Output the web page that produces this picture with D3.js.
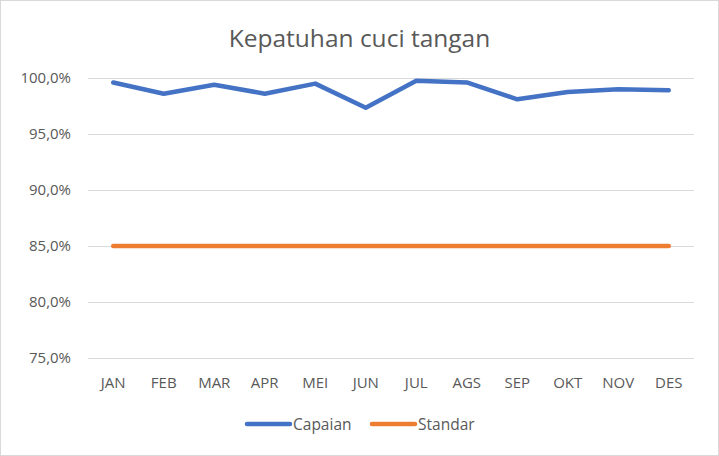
<!DOCTYPE html>
<html>
<head>
<meta charset="utf-8">
<script src="https://cdn.jsdelivr.net/npm/d3@7"></script>
<style>
  body { margin: 0; background: #fff; }
  text { font-family: "Open Sans", "Noto Sans", sans-serif; fill: #595959; }
</style>
</head>
<body>
<div id="container"></div>
<script>
// data
const months = [ 'JAN', 'FEB', 'MAR', 'APR', 'MEI', 'JUN', 'JUL', 'AGS', 'SEP', 'OKT', 'NOV', 'DES' ];
const capaian = [ 99.6, 98.6, 99.4, 98.6, 99.5, 97.35, 99.75, 99.6, 98.1, 98.75, 99.0, 98.9 ];
const standar = [ 85, 85, 85, 85, 85, 85, 85, 85, 85, 85, 85, 85 ];
const yTicks = [ 75, 80, 85, 90, 95, 100 ];

const series = [
  { name: 'Capaian', values: capaian, color: '#4472C4' },
  { name: 'Standar', values: standar, color: '#ED7D31' }
];

const W = 719, H = 456;
const margin = { top: 78, right: 25, bottom: 98, left: 88 };
const width = W - margin.left - margin.right;
const height = H - margin.top - margin.bottom;

const svg = d3.select( '#container' ).append( 'svg' )
  .attr( 'width', W ).attr( 'height', H );

// chart border
svg.append( 'rect' )
  .attr( 'x', 0.5 ).attr( 'y', 0.5 )
  .attr( 'width', W - 1 ).attr( 'height', H - 1 )
  .attr( 'fill', '#fff' ).attr( 'stroke', '#d9d9d9' );

const g = svg.append( 'g' ).attr( 'transform', `translate(${margin.left},${margin.top})` );

const x = d3.scaleBand().domain( months ).range( [ 0, width ] );
const y = d3.scaleLinear().domain( [ 75, 100 ] ).range( [ height, 0 ] );
const fmt = v => d3.format( '.1f' )( v ).replace( '.', ',' ) + '%';

// gridlines
g.append( 'g' )
  .selectAll( 'line' )
  .data( yTicks )
  .join( 'line' )
  .attr( 'x1', 0 ).attr( 'x2', width )
  .attr( 'y1', d => Math.round( y( d ) ) + 0.5 )
  .attr( 'y2', d => Math.round( y( d ) ) + 0.5 )
  .attr( 'stroke', '#d9d9d9' ).attr( 'stroke-width', 1 );

// y axis
const yAxis = g.append( 'g' )
  .call( d3.axisLeft( y ).tickValues( yTicks ).tickFormat( fmt ).tickSize( 0 ).tickPadding( 17 ) );
yAxis.select( '.domain' ).remove();
yAxis.selectAll( 'text' ).style( 'font-size', '15px' ).attr( 'fill', '#595959' );

// x axis
const xAxis = g.append( 'g' )
  .attr( 'transform', `translate(0,${height})` )
  .call( d3.axisBottom( x ).tickSize( 0 ).tickPadding( 19 ) );
xAxis.select( '.domain' ).remove();
xAxis.selectAll( 'text' ).style( 'font-size', '15px' ).attr( 'fill', '#595959' );

// lines
const line = d3.line()
  .x( ( d, i ) => x( months[ i ] ) + x.bandwidth() / 2 )
  .y( d => y( d ) );

g.selectAll( '.series' )
  .data( series )
  .join( 'path' )
  .attr( 'class', 'series' )
  .attr( 'd', d => line( d.values ) )
  .attr( 'fill', 'none' )
  .attr( 'stroke', d => d.color )
  .attr( 'stroke-width', 4.5 )
  .attr( 'stroke-linejoin', 'round' )
  .attr( 'stroke-linecap', 'round' );

// title
svg.append( 'text' )
  .attr( 'x', W / 2 )
  .attr( 'y', 47 )
  .attr( 'text-anchor', 'middle' )
  .style( 'font-size', '24.5px' )
  .text( 'Kepatuhan cuci tangan' );

// legend
const legendPos = [ 247, 372 ];
const legend = svg.append( 'g' ).attr( 'transform', 'translate(0,424)' );
series.forEach( ( s, i ) => {
  legend.append( 'line' )
    .attr( 'x1', legendPos[ i ] ).attr( 'x2', legendPos[ i ] + 43 )
    .attr( 'y1', 0 ).attr( 'y2', 0 )
    .attr( 'stroke', s.color ).attr( 'stroke-width', 4.5 )
    .attr( 'stroke-linecap', 'round' );
  legend.append( 'text' )
    .attr( 'x', legendPos[ i ] + 46 )
    .attr( 'y', 5.5 )
    .style( 'font-size', '15.5px' )
    .text( s.name );
} );
</script>
</body>
</html>
